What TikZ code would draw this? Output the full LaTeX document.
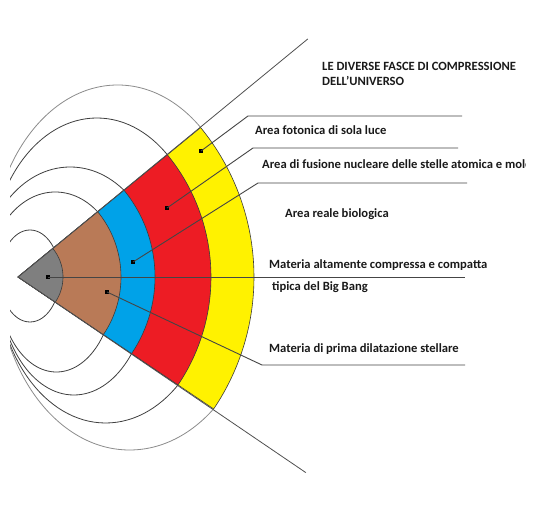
\documentclass[tikz,border=0pt]{standalone}
\usepackage{fontspec}
\setmainfont{Carlito}
\usetikzlibrary{calc}
\definecolor{cgrey}{HTML}{7F7F7F}
\definecolor{cbrown}{HTML}{B97A57}
\definecolor{cblue}{HTML}{00A2E8}
\definecolor{cred}{HTML}{ED1C24}
\definecolor{cyellow}{HTML}{FFF200}
\definecolor{bandline}{HTML}{3C3C3C}
\definecolor{edgeline}{HTML}{505050}
\definecolor{arcdark}{HTML}{404040}
\definecolor{arclight}{HTML}{8C8C8C}
\definecolor{leadcol}{HTML}{454545}
\definecolor{txtcol}{HTML}{1A1A1A}
\begin{document}
\begin{tikzpicture}[x=1pt,y=1pt,
  dot/.style={rectangle,fill=black,draw=none,minimum size=4.5pt,inner sep=0pt},
  lbl/.style={anchor=base west,inner sep=0pt,text=txtcol,font=\fontsize{12.6}{15}\selectfont\bfseries},
  band/.style={draw=bandline,line width=0.6pt},
  edgeln/.style={draw=edgeline,line width=0.8pt},
  arcd/.style={draw=arcdark,line width=0.8pt},
  arcl/.style={draw=arclight,line width=0.8pt},
  leader/.style={draw=leadcol,line width=0.9pt}]
\fill[white] (0,0) rectangle (550,-510);
\useasboundingbox (0,0) rectangle (550,-510);
\coordinate (A) at (18,-277);
\coordinate (eu) at ($(A)+(39.4:375)$);
\coordinate (ed) at ($(A)+(-34.2:348)$);
% left arcs (clipped to the outside of the wedge and to x >= 10)
\begin{scope}
\clip (10,5) -- ($(A)+(39.3:520)$) -- (A) -- ($(A)+(-34:520)$) -- (10,-560) -- cycle;
\draw[arcd] (30,-276) ellipse[x radius=30, y radius=46];
% upper halves
\draw[arcd] (123,-282) arc[start angle=0,end angle=180,x radius=67.7,y radius=90];
\draw[arcd] (158.7,-280) arc[start angle=0,end angle=180,x radius=88.5,y radius=113];
\draw[arcd] (203.4,-265) arc[start angle=0,end angle=180,x radius=106.5,y radius=147];
\draw[arcl] (244.7,-260) arc[start angle=0,end angle=180,x radius=127,y radius=175];
% lower halves
\draw[arcd] (-1.6,-282) arc[start angle=180,end angle=360,x radius=58,y radius=90];
\draw[arcd] (-1.2,-280) arc[start angle=180,end angle=360,x radius=75.1,y radius=115];
\draw[arcd] (-3.9,-270) arc[start angle=180,end angle=360,x radius=109.6,y radius=153];
\draw[arcl] (-2.5,-270) arc[start angle=180,end angle=360,x radius=132.1,y radius=180];
\end{scope}
% sector
\foreach \r/\c in {236/cyellow,193/cred,137/cblue,103/cbrown,45/cgrey}
  \filldraw[band,fill=\c] (A) -- ++(-34:\r) arc[start angle=-34,end angle=39.3,radius=\r] -- cycle;
\draw[edgeln] (A) -- (eu);
\draw[edgeln] (A) -- (ed);
% dots
\node[dot] (dg) at (48,-277) {};
\node[dot] (dbr) at (107,-292) {};
\node[dot] (dbl) at (133,-262) {};
\node[dot] (drd) at (167,-208) {};
\node[dot] (dyl) at (201,-151) {};
% leader coordinates
\coordinate (hg) at (465,-277);
\coordinate (kbr) at (262,-365);
\coordinate (hbr) at (465,-365);
\coordinate (kbl) at (258,-183);
\coordinate (hbl) at (467,-183);
\coordinate (krd) at (253,-148);
\coordinate (hrd) at (458,-148);
\coordinate (kyl) at (248,-116);
\coordinate (hyl) at (462,-116);
\draw[leader] (dg.center) -- (hg);
\draw[leader] (dbr.center) -- (kbr) -- (hbr);
\draw[leader] (dbl.center) -- (kbl) -- (hbl);
\draw[leader] (drd.center) -- (krd) -- (hrd);
\draw[leader] (dyl.center) -- (kyl) -- (hyl);
% texts
\node[lbl] (t1) at (322,-71) {LE DIVERSE FASCE DI COMPRESSIONE};
\node[lbl] (t2) at (322,-86) {DELL'UNIVERSO};
\node[lbl] (lyl) at (255,-135) {Area fotonica di sola luce};
\begin{scope}
\clip (0,0) rectangle (525,-510);
\node[lbl] (lrd) at (262,-169) {Area di fusione nucleare delle stelle atomica e mole};
\end{scope}
\node[lbl] (lbl) at (285,-218) {Area reale biologica};
\node[lbl] (lg1) at (269,-269) {Materia altamente compressa e compatta};
\node[lbl] (lg2) at (272,-291) {tipica del Big Bang};
\node[lbl] (lbr) at (269,-353) {Materia di prima dilatazione stellare};
\end{tikzpicture}
\end{document}
